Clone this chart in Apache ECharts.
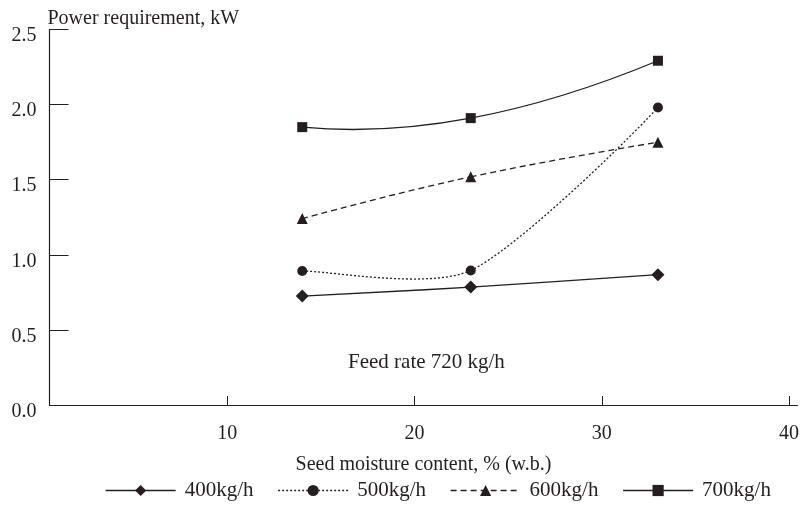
<!DOCTYPE html>
<html>
<head>
<meta charset="utf-8">
<title>Power requirement vs seed moisture content</title>
<script src="https://cdn.jsdelivr.net/npm/echarts@6/dist/echarts.min.js"></script>
<style>
  html, body { margin: 0; padding: 0; background: #fff; }
  #chart { width: 802px; height: 506px; }
</style>
</head>
<body>
<div id="chart"></div>
<script>
// Seed moisture content, % (w.b.)
const moisture = [14, 23, 33];

// Power requirement, kW, for each feeding capacity
const seriesNames = ['400kg/h', '500kg/h', '600kg/h', '700kg/h'];
const power400 = [0.725, 0.785, 0.868];
const power500 = [0.892, 0.896, 1.981];
const power600 = [1.241, 1.519, 1.75];
const power700 = [1.85, 1.91, 2.292];

const xTicks = [10, 20, 30, 40];

const ink = '#231f20';
const serif = '"Liberation Serif", "Times New Roman", serif';

function pairs(values) {
  return moisture.map((m, i) => [m, values[i]]);
}

// Hermite tangents (pixel space) for a smoothed curve through the points.
// k: interior tension; a/b: end tangent as a mix of the parabola-consistent
// tangent and the adjacent chord.
function tangents(P, s) {
  const n = P.length;
  const m = new Array(n);
  for (let i = 1; i < n - 1; i++) {
    m[i] = [(P[i + 1][0] - P[i - 1][0]) * s.k, (P[i + 1][1] - P[i - 1][1]) * s.k];
  }
  const c0 = [P[1][0] - P[0][0], P[1][1] - P[0][1]];
  const cN = [P[n - 1][0] - P[n - 2][0], P[n - 1][1] - P[n - 2][1]];
  const m1 = m[1] || [c0[0] / 2, c0[1] / 2];
  const mN = m[n - 2] || [cN[0] / 2, cN[1] / 2];
  m[0] = [s.a0 * (2 * c0[0] - m1[0]) + s.b0 * c0[0], s.a0 * (2 * c0[1] - m1[1]) + s.b0 * c0[1]];
  m[n - 1] = [s.a1 * (2 * cN[0] - mN[0]) + s.b1 * cN[0], s.a1 * (2 * cN[1] - mN[1]) + s.b1 * cN[1]];
  return m;
}

// Smoothed connecting curve drawn segment by segment through the axis scales
function curveSeries(id, values, dash, shape) {
  return {
    id: id,
    type: 'custom',
    coordinateSystem: 'cartesian2d',
    data: pairs(values),
    encode: { x: 0, y: 1 },
    silent: true,
    z: 2,
    renderItem: function (params, api) {
      const i = params.dataIndex;
      if (i >= values.length - 1) return null;
      const P = moisture.map((m, j) => api.coord([m, values[j]]));
      const t = tangents(P, shape);
      return {
        type: 'bezierCurve',
        shape: {
          x1: P[i][0], y1: P[i][1],
          x2: P[i + 1][0], y2: P[i + 1][1],
          cpx1: P[i][0] + t[i][0] / 3, cpy1: P[i][1] + t[i][1] / 3,
          cpx2: P[i + 1][0] - t[i + 1][0] / 3, cpy2: P[i + 1][1] - t[i + 1][1] / 3
        },
        style: { stroke: ink, lineWidth: 1.3, fill: 'none', lineDash: dash }
      };
    }
  };
}

// Markers (and legend entries) for each capacity
function markerSeries(name, values, symbol, size) {
  return {
    name: name,
    type: 'line',
    data: pairs(values),
    symbol: symbol,
    symbolSize: size,
    showAllSymbol: true,
    itemStyle: { color: ink },
    lineStyle: { color: ink, width: 0 },
    emphasis: { disabled: true },
    z: 3
  };
}

const lineTypes = ['solid', [2, 2], [6, 4], 'solid'];

const chart = echarts.init(document.getElementById('chart'), null, { renderer: 'canvas' });

chart.setOption({
  backgroundColor: '#ffffff',
  animation: false,
  textStyle: { fontFamily: serif, color: ink },
  grid: { left: 49.5, right: 2, top: 29.5, bottom: 101, containLabel: false },
  xAxis: {
    type: 'value',
    min: 0.5,
    max: 40.45,
    name: 'Seed moisture content, % (w.b.)',
    nameLocation: 'middle',
    nameGap: 50,
    nameTextStyle: { fontFamily: serif, fontSize: 20, color: ink },
    axisLine: { show: true, lineStyle: { color: ink, width: 1.2 } },
    axisTick: { show: true, inside: true, length: 9, customValues: xTicks, lineStyle: { color: ink, width: 1 } },
    axisLabel: { customValues: xTicks, margin: 19, fontFamily: serif, fontSize: 20, color: ink },
    splitLine: { show: false }
  },
  yAxis: {
    type: 'value',
    min: 0,
    max: 2.5,
    interval: 0.5,
    name: 'Power requirement, kW',
    nameLocation: 'end',
    nameGap: 11,
    nameTextStyle: { fontFamily: serif, fontSize: 20, color: ink, align: 'left', verticalAlign: 'middle', padding: [0, 0, 0, -2] },
    axisLine: { show: true, lineStyle: { color: ink, width: 1.2 } },
    axisTick: { show: true, inside: true, length: 19, lineStyle: { color: ink, width: 1 } },
    axisLabel: {
      margin: 13,
      fontFamily: serif,
      fontSize: 20,
      color: ink,
      formatter: v => '{t|' + v.toFixed(1) + '}',
      rich: { t: { fontFamily: serif, fontSize: 20, color: ink, padding: [13, 0, 0, 0] } }
    },
    splitLine: { show: false }
  },
  legend: {
    data: seriesNames.map((name, i) => ({
      name: name,
      lineStyle: { color: ink, width: 1.3, type: lineTypes[i], opacity: 1 }
    })),
    left: 105,
    top: 480,
    padding: 0,
    itemWidth: 70,
    itemHeight: 14,
    itemGap: 24,
    textStyle: { fontFamily: serif, fontSize: 21, color: ink, padding: [0, 0, 0, 4] },
    selectedMode: false
  },
  graphic: [
    {
      type: 'text',
      left: 348,
      top: 352,
      style: { text: 'Feed rate 720 kg/h', font: '21px ' + serif, fill: ink }
    }
  ],
  series: [
    curveSeries('curve400', power400, null, { k: 0.5, a0: 0.5, b0: 0.25, a1: 0.5, b1: 0.25 }),
    curveSeries('curve500', power500, [2, 2], { k: 0.35, a0: 0, b0: 0.5, a1: 0.5, b1: 0 }),
    curveSeries('curve600', power600, [6, 4], { k: 0.5, a0: 0.5, b0: 0.25, a1: 0.5, b1: 0.25 }),
    curveSeries('curve700', power700, null, { k: 0.5, a0: 1, b0: 0, a1: 1, b1: 0 }),
    markerSeries(seriesNames[0], power400, 'diamond', 13),
    markerSeries(seriesNames[1], power500, 'circle', 10),
    markerSeries(seriesNames[2], power600, 'triangle', 11),
    markerSeries(seriesNames[3], power700, 'rect', 10)
  ]
});
</script>
</body>
</html>
